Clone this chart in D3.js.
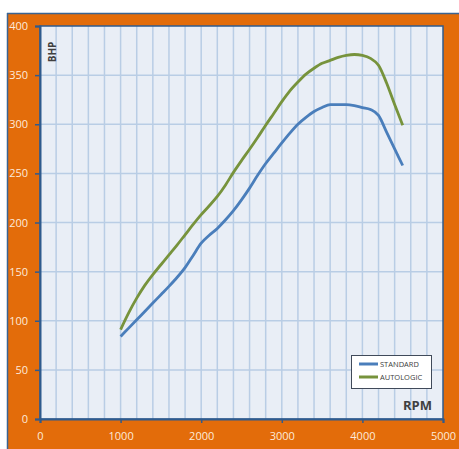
<!DOCTYPE html>
<html><head><meta charset="utf-8">
<script src="https://cdn.jsdelivr.net/npm/d3@7"></script>
<style>html,body{margin:0;padding:0;background:#fff;}svg{display:block;}</style>
</head><body>
<script>
const rpm = [1000,1100,1200,1300,1400,1500,1600,1700,1800,1900,2000,2100,2200,2300,2400,2500,2600,2700,2800,2900,3000,3100,3200,3300,3400,3500,3600,3700,3800,3900,4000,4100,4200,4300,4400,4500];
const standard = [84,92.5,101,109.5,118,126.5,135,144,154,166.5,179,187,194,202.5,212,223,235,248,260,270.5,281,291,300,307,313,317,320,320,320,319,317,315,309,292,275,258];
const autologic = [91,108,123,136,147,157,167,177,187.5,198,208,217,226.5,238,251,263,274.5,286.5,299,311,323,334,343,351,357,362,365,368,370,371,370,367,360,342,320,299];
const xTicks = [0,1000,2000,3000,4000,5000];
const yTicks = [0,50,100,150,200,250,300,350,400];
const xGrid = d3.range(0,5001,200);
const seriesNames = ["STANDARD","AUTOLOGIC"];
const seriesColors = ["#4A7EBB","#77933C"];

const W=459,H=449;
const L=40,R=443,T=26,B=419;
const svg=d3.select("body").append("svg").attr("width",W).attr("height",H);
svg.append("rect").attr("x",7).attr("y",13).attr("width",W-7).attr("height",H-13).attr("fill","#E36C0A");
svg.append("line").attr("x1",7).attr("x2",W).attr("y1",13.5).attr("y2",13.5).attr("stroke","#3B6492").attr("stroke-width",1.5);
svg.append("line").attr("x1",7.5).attr("x2",7.5).attr("y1",13).attr("y2",H).attr("stroke","#3B6492").attr("stroke-width",1.5);

const x=d3.scaleLinear().domain([0,5000]).range([L,R]);
const y=d3.scaleLinear().domain([0,400]).range([B,T]);

svg.append("rect").attr("x",L).attr("y",T).attr("width",R-L).attr("height",B-T).attr("fill","#E9EEF6");
const g=svg.append("g");
g.selectAll(".vg").data(xGrid.filter(d=>d>0&&d<5000)).join("line")
 .attr("x1",d=>x(d)).attr("x2",d=>x(d)).attr("y1",T).attr("y2",B)
 .attr("stroke","#B9CDE5").attr("stroke-width",1.5);
g.selectAll(".hg").data(yTicks.filter(d=>d>0&&d<400)).join("line")
 .attr("x1",L).attr("x2",R).attr("y1",d=>y(d)).attr("y2",d=>y(d))
 .attr("stroke","#B9CDE5").attr("stroke-width",1.5);
svg.append("rect").attr("x",L).attr("y",T).attr("width",R-L).attr("height",B-T).attr("fill","none").attr("stroke","#2F5B8E").attr("stroke-width",1.5);

const xa=svg.append("g").attr("transform",`translate(0,${B})`).call(d3.axisBottom(x).tickValues(xTicks).tickSize(4).tickPadding(9).tickFormat(d3.format("d")));
const ya=svg.append("g").attr("transform",`translate(${L},0)`).call(d3.axisLeft(y).tickValues(yTicks).tickSize(5).tickPadding(7));
[xa,ya].forEach(a=>{
  a.select(".domain").attr("stroke","#2F5B8E").attr("stroke-width",2);
  a.selectAll(".tick line").attr("stroke","#2F5B8E").attr("stroke-width",1.5);
  a.selectAll("text").attr("fill","#FDEADA").attr("font-family","Open Sans").attr("font-size","11px");
});

const line=d3.line().x((d,i)=>x(rpm[i])).y(d=>y(d)).curve(d3.curveMonotoneX);
[standard,autologic].forEach((s,k)=>{
  svg.append("path").datum(s).attr("d",line).attr("fill","none").attr("stroke",seriesColors[k]).attr("stroke-width",2.8).attr("stroke-linejoin","round");
});

svg.append("text").attr("transform","translate(56,52) rotate(-90)").attr("text-anchor","middle")
 .attr("font-family","Open Sans").attr("font-weight","bold").attr("font-size","10px").attr("fill","#404040").text("BHP");
svg.append("text").attr("x",432).attr("y",410).attr("text-anchor","end")
 .attr("font-family","Open Sans").attr("font-weight","bold").attr("font-size","13px").attr("fill","#404040").text("RPM");

const lg=svg.append("g");
lg.append("rect").attr("x",351.5).attr("y",355.5).attr("width",80).attr("height",33).attr("fill","#fff").attr("stroke","#404A5A").attr("stroke-width",1);
seriesNames.forEach((n,k)=>{
  const yy=364+k*13;
  lg.append("line").attr("x1",359).attr("x2",378).attr("y1",yy).attr("y2",yy).attr("stroke",seriesColors[k]).attr("stroke-width",3);
  lg.append("text").attr("x",380).attr("y",yy+2.7).attr("font-family","Open Sans").attr("font-size","7.5px").attr("fill","#404040").text(n);
});
</script>
</body></html>
